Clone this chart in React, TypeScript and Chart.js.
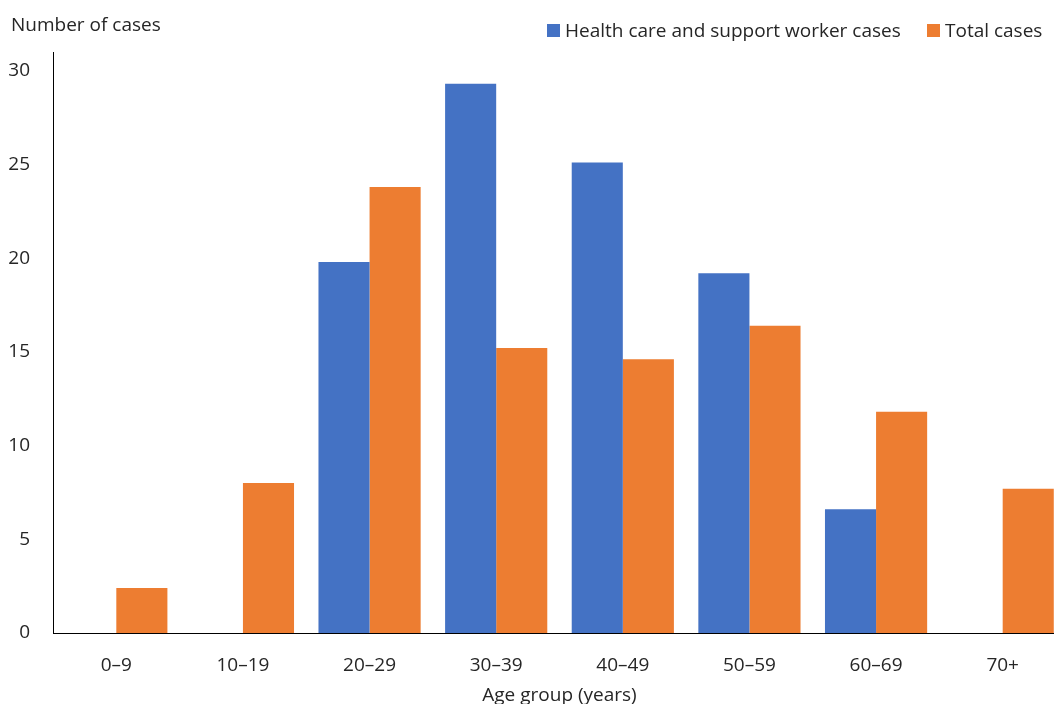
import React, { useEffect, useRef } from "react";
import { Chart, registerables } from "chart.js";

Chart.register(...registerables);

const categories = ["0–9", "10–19", "20–29", "30–39", "40–49", "50–59", "60–69", "70+"];
const hcwCases = [0, 0, 19.8, 29.3, 25.1, 19.2, 6.6, 0];
const totalCases = [2.4, 8.0, 23.8, 15.2, 14.6, 16.4, 11.8, 7.7];
const seriesNames = ["Health care and support worker cases", "Total cases"];
const yTicks = [0, 5, 10, 15, 20, 25, 30];

const BLUE = "#4472C4";
const ORANGE = "#ED7D31";
const TEXT = "#262626";
const FONT = "'Open Sans', 'Noto Sans', sans-serif";
const FS = 19;

const decorPlugin = {
  id: "decor",
  afterDraw(chart: any) {
    const ctx = chart.ctx;
    ctx.save();
    ctx.fillStyle = TEXT;
    ctx.font = `${FS}px ${FONT}`;
    ctx.textBaseline = "middle";
    ctx.textAlign = "left";
    ctx.fillText("Number of cases", 11, 26);
    // legend
    const items = [
      { x: 547, color: BLUE, label: seriesNames[0] },
      { x: 927, color: ORANGE, label: seriesNames[1] },
    ];
    items.forEach((it) => {
      ctx.fillStyle = it.color;
      ctx.fillRect(it.x, 24, 13, 13);
      ctx.fillStyle = TEXT;
      ctx.fillText(it.label, it.x + 18, 32);
    });
    ctx.restore();
  },
};

export default function App() {
  const ref = useRef<HTMLCanvasElement>(null);
  useEffect(() => {
    if (!ref.current) return;
    const chart = new Chart(ref.current, {
      type: "bar",
      data: {
        labels: categories,
        datasets: [
          {
            label: seriesNames[0],
            data: hcwCases,
            backgroundColor: BLUE,
            borderWidth: 0,
            categoryPercentage: 0.807,
            barPercentage: 1,
          },
          {
            label: seriesNames[1],
            data: totalCases,
            backgroundColor: ORANGE,
            borderWidth: 0,
            categoryPercentage: 0.807,
            barPercentage: 1,
          },
        ],
      },
      options: {
        responsive: false,
        animation: false,
        devicePixelRatio: 1,
        layout: { padding: { top: 52, left: 0, right: 0, bottom: 0 } },
        plugins: {
          legend: { display: false },
          tooltip: { enabled: false },
        },
        scales: {
          x: {
            grid: { display: false, drawTicks: false },
            border: { display: true, color: "#000", width: 1 },
            ticks: {
              font: { family: FONT, size: FS },
              color: TEXT,
              padding: 21,
              maxRotation: 0,
            },
            title: {
              display: true,
              text: "Age group (years)",
              font: { family: FONT, size: FS },
              color: TEXT,
              padding: { top: 0, bottom: 5 },
            },
            afterFit: (scale: any) => {
              scale.height = 79;
            },
          },
          y: {
            min: 0,
            max: 31,
            grid: { display: false, drawTicks: false },
            border: { display: true, color: "#000", width: 1 },
            ticks: {
              stepSize: 5,
              font: { family: FONT, size: FS },
              color: TEXT,
              padding: 23,
            },
            afterBuildTicks: (scale: any) => {
              scale.ticks = yTicks.map((v) => ({ value: v }));
            },
            afterFit: (scale: any) => {
              scale.width = 53;
            },
          },
        },
      },
      plugins: [decorPlugin],
    });
    return () => chart.destroy();
  }, []);
  return (
    <div
      style={{
        position: "fixed",
        left: 0,
        top: 0,
        width: 1054,
        height: 704,
        overflow: "hidden",
        background: "#fff",
      }}
    >
      <canvas ref={ref} width={1066} height={712} style={{ display: "block" }} />
    </div>
  );
}
